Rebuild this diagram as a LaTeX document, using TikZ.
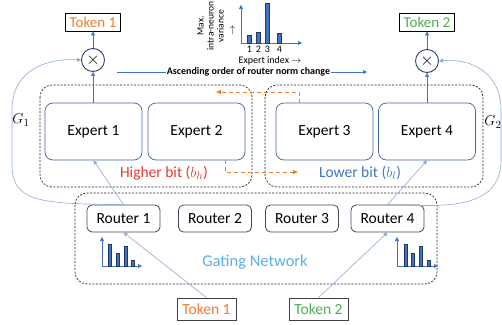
\documentclass[tikz,border=0pt]{standalone}
\usepackage{fontspec}
\setmainfont{Carlito}
\usetikzlibrary{arrows.meta,calc}
\definecolor{lineblue}{RGB}{68,114,196}
\definecolor{lightblue}{RGB}{143,170,220}
\definecolor{boxblue}{RGB}{68,98,160}
\definecolor{navy}{RGB}{47,64,112}
\definecolor{orng}{RGB}{237,125,49}
\definecolor{grn}{RGB}{76,175,80}
\definecolor{redt}{RGB}{229,57,53}
\definecolor{gateblue}{RGB}{91,174,232}
\definecolor{bardraw}{RGB}{31,56,100}
\definecolor{routerdraw}{RGB}{64,74,90}
\tikzset{
  tip/.style={-{Triangle[length=4pt,width=4pt]}},
  expertbox/.style={draw=boxblue, rounded corners=8pt, minimum width=97pt, minimum height=57pt, line width=0.7pt, font=\fontsize{15.5}{18}\selectfont},
  routerbox/.style={draw=routerdraw, rounded corners=5pt, minimum width=73pt, minimum height=27pt, line width=0.8pt, font=\fontsize{15.5}{18}\selectfont},
  tokenbox/.style={draw=black, line width=0.8pt, inner sep=0pt, minimum width=55pt, minimum height=18pt, font=\fontsize{15}{18}\selectfont},
  btokenbox/.style={draw=darkgray, line width=0.8pt, inner sep=0pt, minimum width=59pt, minimum height=22pt, font=\fontsize{15.5}{18}\selectfont},
  groupbox/.style={draw=black!85, dash pattern=on 2pt off 1.5pt, rounded corners=12pt, line width=0.7pt},
  mult/.style={draw=navy, circle, minimum size=23pt, inner sep=0pt, line width=0.9pt, font=\fontsize{18}{20}\selectfont},
  bar/.style={fill=lineblue, draw=bardraw, line width=0.5pt},
  axisline/.style={draw=lineblue, line width=0.6pt, -{Triangle[length=4pt,width=4pt]}},
  conn/.style={draw=lightblue, line width=0.6pt, tip},
  orconn/.style={draw=orng, line width=0.9pt, dashed, dash pattern=on 4pt off 3pt, -{Triangle[length=5pt,width=4pt]}},
}
\begin{document}
\begin{tikzpicture}[x=1pt,y=-1pt]
\useasboundingbox (0,0) rectangle (502,324);

% groups
\draw[groupbox] (40,85) rectangle (252,187);
\draw[groupbox] (265,85) rectangle (483,187);
\draw[groupbox] (75,193) rectangle (437,284);

% experts
\node[expertbox] (E1) at (93.5,131.5) {Expert 1};
\node[expertbox] (E2) at (196.5,131.5) {Expert 2};
\node[expertbox] (E3) at (324.5,131.5) {Expert 3};
\node[expertbox] (E4) at (427,131.5) {Expert 4};

% routers
\node[routerbox] (R1) at (123.5,218.5) {Router 1};
\node[routerbox] (R2) at (215,218.5) {Router 2};
\node[routerbox] (R3) at (302,218.5) {Router 3};
\node[routerbox] (R4) at (387.5,218.5) {Router 4};

% tokens
\node[tokenbox, text=orng] (T1) at (93,22) {Token 1};
\node[tokenbox, text=grn] (T2) at (427,22) {Token 2};
\node[btokenbox, text=orng] (B1) at (206.5,309) {Token 1};
\node[btokenbox, text=grn] (B2) at (318.5,309) {Token 2};

% multipliers
\node[mult] (C1) at (93,60) {$\times$};
\node[mult] (C2) at (427,61) {$\times$};

% group labels
\node[text=redt, font=\fontsize{15.5}{18}\selectfont] (hb) at (164,173) {Higher bit ($b_h$)};
\node[text=lineblue, font=\fontsize{15.5}{18}\selectfont] (lb) at (360,173) {Lower bit ($b_l$)};
\node[text=gateblue, font=\fontsize{16.5}{18}\selectfont] (gn) at (255,262) {Gating Network};

% G labels
\node[font=\fontsize{15}{18}\selectfont] (G1) at (21,120) {$G_1$};
\node[font=\fontsize{15}{18}\selectfont, inner sep=0pt] (G2) at (493,122) {$G_2$};

% ascending text
\node[font=\bfseries\fontsize{10}{12}\selectfont, inner sep=1pt] (asc) at (248.5,72) {Ascending order of router norm change};
\coordinate (ascL) at (117,72);
\coordinate (ascR) at (367,72);
\draw[lineblue, line width=0.6pt] (ascL) -- (asc.west);
\draw[lineblue, line width=0.6pt, tip] (asc.east) -- (ascR);

% big histogram
\draw[axisline] (241,43) -- (241,5);
\draw[axisline] (241,43) -- (302,43);
\draw[bar] (247.5,43) rectangle (251,35);
\draw[bar] (256.5,43) rectangle (260,32);
\draw[bar] (265.5,43) rectangle (269,3);
\draw[bar] (277.5,43) rectangle (281,33);
\node[font=\fontsize{10}{12}\selectfont] (n1) at (249.5,49) {1};
\node[font=\fontsize{10}{12}\selectfont] (n2) at (258.5,49) {2};
\node[font=\fontsize{10}{12}\selectfont] (n3) at (267.5,49) {3};
\node[font=\fontsize{10}{12}\selectfont] (n4) at (279.5,49) {4};
\node[font=\fontsize{10}{12}\selectfont] (xi) at (270,61) {Expert index $\rightarrow$};
\node[font=\fontsize{9.5}{10}\selectfont, rotate=90, align=center, inner sep=0pt] (yl) at (210.5,26) {Max.\\intra-neuron\\variance};
\node[font=\fontsize{10}{12}\selectfont, rotate=90, inner sep=0pt] (ya) at (233,30) {$\rightarrow$};

% small histograms
\draw[axisline] (102,266) -- (102,237);
\draw[axisline] (102,266) -- (142,266);
\draw[bar] (108.5,266) rectangle (111.5,244);
\draw[bar] (116.5,266) rectangle (119.5,253);
\draw[bar] (124.5,266) rectangle (127.5,246);
\draw[bar] (131.5,266) rectangle (134.5,260);

\draw[axisline] (397,266) -- (397,237);
\draw[axisline] (397,266) -- (438,266);
\draw[bar] (404.5,266) rectangle (407.5,244);
\draw[bar] (411.5,266) rectangle (414.5,253);
\draw[bar] (419.5,266) rectangle (422.5,246);
\draw[bar] (427.5,266) rectangle (430.5,260);

% connectors
\draw[conn] (B1.north) -- (R1.south);
\draw[conn] (B2.north) -- (R4.south);
\draw[conn] (R1.north) -- (E1.south);
\draw[conn] (R4.north) -- (E4.south);
\draw[draw=lineblue, line width=0.6pt, tip] (E1.north -| C1) -- (C1.south);
\draw[draw=lineblue, line width=0.6pt, tip] (E4.north -| C2) -- (C2.south);
\draw[draw=lineblue, line width=0.6pt, tip] (C1.north) -- (T1.south);
\draw[draw=lineblue, line width=0.6pt, tip] (C2.north) -- (T2.south);

% gating curves
\draw[conn] (R1.north) .. controls (40,204) and (12,202) .. (12,165) -- (12,110) .. controls (12,68) and (50,58) .. (C1.west);
\draw[conn] (R4.north) .. controls (440,206) and (501,212) .. (501,160) -- (501,110) .. controls (501,72) and (470,58) .. (C2.east);

% orange dashed arrows
\coordinate (oa) at (299,92);
\coordinate (ob) at (216,92);
\coordinate (oc) at (225,172);
\coordinate (od) at (298,172);
\draw[orconn] (E3.north -| oa) -- (oa) -- (ob);
\draw[orconn] (E2.south -| oc) -- (oc) -- (od);
\end{tikzpicture}
\end{document}
